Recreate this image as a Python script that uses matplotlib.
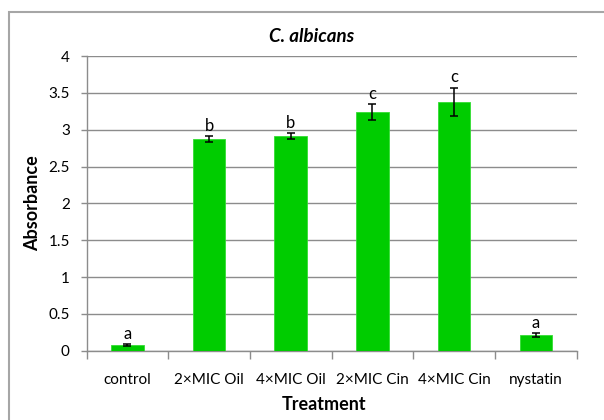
import matplotlib
matplotlib.use("Agg")
import matplotlib.pyplot as plt
from matplotlib.patches import Rectangle
import numpy as np

plt.rcParams['font.family'] = ['Lato', 'DejaVu Sans']

treatments = ["control", "2×MIC Oil", "4×MIC Oil", "2×MIC Cin", "4×MIC Cin", "nystatin"]
absorbance = [0.08, 2.87, 2.91, 3.24, 3.38, 0.21]
errors = [0.01, 0.04, 0.04, 0.11, 0.19, 0.03]
letters = ["a", "b", "b", "c", "c", "a"]

fig = plt.figure(figsize=(6.04, 4.2), dpi=100)
ax = fig.add_axes([86.5 / 604, 1 - 350.7 / 420, 490.2 / 604, 294.7 / 420])

# chart area frame
fig.add_artist(Rectangle((9 / 604, -0.1), 1.2, 0.1 + 1 - 12 / 420,
                         transform=fig.transFigure, fill=False,
                         edgecolor="#a6a6a6", linewidth=1.5))

x = np.arange(len(treatments))
ax.bar(x, absorbance, width=0.4, color="#00cc00", edgecolor="#33dd33",
       linewidth=0.6, zorder=3)
ax.errorbar(x, absorbance, yerr=errors, fmt="none", ecolor="black",
            elinewidth=1.1, capsize=3, capthick=1.1, zorder=4)

for xi, v, e, lab in zip(x, absorbance, errors, letters):
    ax.text(xi, v + e + 0.03, lab, ha="center", va="bottom", fontsize=12)

ax.set_xlim(-0.5, len(treatments) - 0.5)
ax.set_ylim(0, 4)
ax.set_yticks(np.arange(0, 4.01, 0.5))
ax.set_yticklabels(["0", "0.5", "1", "1.5", "2", "2.5", "3", "3.5", "4"])
ax.yaxis.grid(True, color="#8c8c8c", linewidth=1.0, zorder=0)
ax.set_axisbelow(True)

# category separators as major ticks, labels on minor ticks
ax.set_xticks(np.arange(-0.5, len(treatments), 1.0))
ax.set_xticklabels([])
ax.set_xticks(x, minor=True)
ax.set_xticklabels(treatments, minor=True)
ax.tick_params(axis="x", which="major", length=6, width=1, color="#8c8c8c")
ax.tick_params(axis="x", which="minor", length=0, pad=16, labelsize=11)
ax.tick_params(axis="y", length=4, width=1, color="#8c8c8c", pad=8, labelsize=11)

for side in ["top", "right"]:
    ax.spines[side].set_visible(False)
for side in ["left", "bottom"]:
    ax.spines[side].set_color("#8c8c8c")
    ax.spines[side].set_linewidth(1.0)

fig.text(312 / 604, 1 - 37 / 420, "C. albicans", ha="center", va="center",
         fontsize=13.5, fontweight="bold", fontstyle="italic")
fig.text(324 / 604, 1 - 405 / 420, "Treatment", ha="center", va="center",
         fontsize=13, fontweight="bold")
fig.text(33 / 604, 1 - 203 / 420, "Absorbance", ha="center", va="center",
         fontsize=13, fontweight="bold", rotation=90)

fig.savefig("out.png", dpi=100)
